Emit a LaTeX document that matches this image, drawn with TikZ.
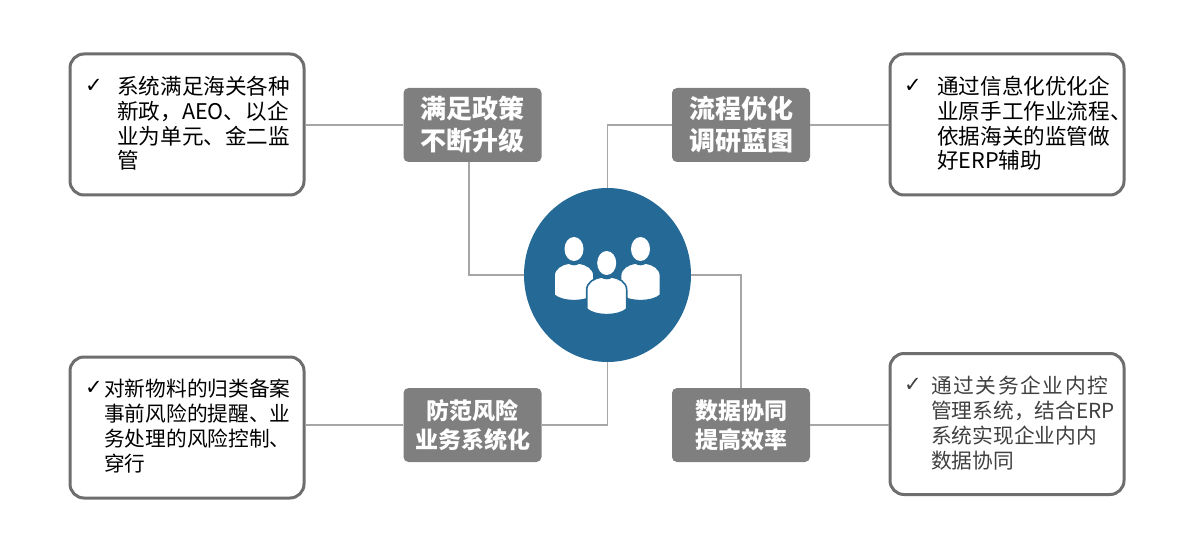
\documentclass[tikz,border=0pt]{standalone}
\usepackage{fontspec}
\setmainfont{Noto Sans CJK SC}
\newfontfamily\checkfont{DejaVu Sans}
\usetikzlibrary{shapes.geometric}

\definecolor{hubblue}{HTML}{256A96}
\definecolor{tagfill}{HTML}{7F7F7F}
\definecolor{edgegray}{HTML}{6E6E6E}
\definecolor{linkgray}{HTML}{A6A6A6}

\begin{document}
\begin{tikzpicture}[
  x=1pt,
  y=-1pt,
  notebox/.style={draw=edgegray, line width=3pt, fill=white, rounded corners=14pt, minimum width=234pt, minimum height=141pt, inner sep=0pt},
  tagbox/.style={fill=tagfill, rounded corners=5pt, minimum width=138pt, minimum height=74pt, inner sep=0pt, text=white, align=center, font=\fontsize{26}{32}\selectfont\bfseries},
  tagsmall/.style={tagbox, font=\fontsize{23}{29}\selectfont\bfseries},
  notetext/.style={anchor=north west, inner sep=0pt, align=left, font=\fontsize{21.6}{24.8}\selectfont},
  ticktext/.style={anchor=center, inner sep=0pt, font=\checkfont\fontsize{21}{22}\selectfont\bfseries},
  link/.style={draw=linkgray, line width=1.8pt},
  person/.style={fill=white, draw=hubblue, line width=1.6pt}
]
  \useasboundingbox (0,0) rectangle (1192,548);

  \node[notebox] (box1) at (187, 124.5) {};
  \node[notebox] (box2) at (1007, 124.5) {};
  \node[notebox] (box3) at (187, 427.5) {};
  \node[notebox] (box4) at (1007, 424) {};

  \node[tagbox] (tag1) at (472.5, 125) {满足政策\\不断升级};
  \node[tagbox] (tag2) at (741, 125) {流程优化\\调研蓝图};
  \node[tagsmall] (tag3) at (472.5, 425) {防范风险\\业务系统化};
  \node[tagsmall] (tag4) at (741, 425) {数据协同\\提高效率};

  \node[ellipse, fill=hubblue, minimum width=167pt, minimum height=174pt, inner sep=0pt] (hub) at (607.5, 275) {};

  % three people on the hub
  \foreach \hx/\hy in {574/249, 640.5/249, 606.7/263}{
    \fill[white] (\hx, \hy) ellipse (9.5pt and 12pt);
    \path[person] (\hx-20, \hy+46) -- (\hx-20, \hy+27)
      .. controls (\hx-20, \hy+19) and (\hx-12, \hy+15) .. (\hx-5, \hy+14)
      .. controls (\hx-2, \hy+16) and (\hx+2, \hy+16) .. (\hx+5, \hy+14)
      .. controls (\hx+12, \hy+15) and (\hx+20, \hy+19) .. (\hx+20, \hy+27)
      -- (\hx+20, \hy+46)
      .. controls (\hx+12, \hy+53.5) and (\hx-12, \hy+53.5) .. (\hx-20, \hy+46) -- cycle;
  }

  \node[ticktext] (tick1) at (94, 86) {✓};
  \node[notetext] (note1) at (117, 76) {系统满足海关各种\\新政，AEO、以企\\业为单元、金二监\\管};

  \node[ticktext] (tick2) at (913, 86) {✓};
  \node[notetext] (note2) at (937, 76) {通过信息化优化企\\业原手工作业流程、\\依据海关的监管做\\好ERP辅助};

  \node[ticktext] (tick3) at (94, 388) {✓};
  \node[notetext, font=\fontsize{20.7}{24.8}\selectfont] (note3) at (104, 379) {对新物料的归类备案\\事前风险的提醒、业\\务处理的风险控制、\\穿行};

  \node[ticktext, text=black!75] (tick4) at (913, 385) {✓};
  \node[notetext, text=black!75, font=\fontsize{20.7}{24.8}\selectfont\addfontfeature{LetterSpace=8}] (note4) at (931, 376) {通过关务企业内控};
  \node[notetext, text=black!75, font=\fontsize{20.7}{24.8}\selectfont] (note4b) at (931, 400.8) {管理系统，结合ERP\\系统实现企业内内\\数据协同};

  \draw[link] (tag1.west) -- (tag1.west -| box1.east);
  \draw[link] ([xshift=-3.5pt]tag1.south) |- (hub.west);
  \draw[link] (tag2.east) -- (tag2.east -| box2.west);
  \draw[link] (tag2.west) -| (hub.north);
  \draw[link] (tag3.west) -- (tag3.west -| box3.east);
  \draw[link] (tag3.east) -| (hub.south);
  \draw[link] (hub.east) -| (tag4.north);
  \draw[link] (tag4.east) -- (tag4.east -| box4.west);
\end{tikzpicture}
\end{document}
